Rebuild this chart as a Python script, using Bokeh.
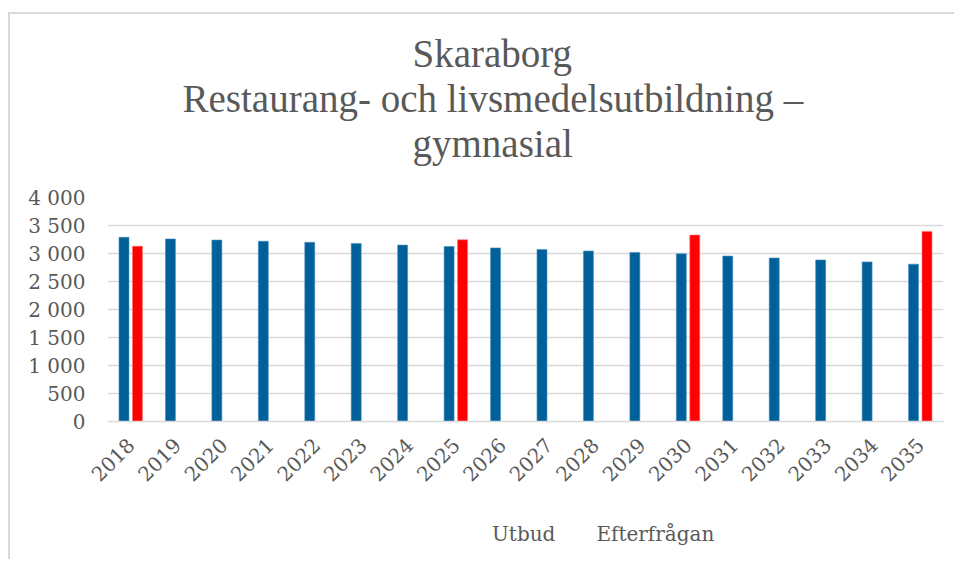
import math
from bokeh.plotting import figure
from bokeh.layouts import column
from bokeh.models import ColumnDataSource, FactorRange, Legend, LegendItem, FixedTicker, CustomJSTickFormatter, Title
from bokeh.transform import dodge
from bokeh.embed import file_html
from bokeh.resources import INLINE

years = [str(y) for y in range(2018, 2036)]
utbud = [3290, 3260, 3240, 3220, 3200, 3180, 3150, 3125, 3100, 3070, 3045, 3020, 2995, 2955, 2920, 2885, 2850, 2810]
eft_years = ["2018", "2025", "2030", "2035"]
efterfragan = [3130, 3245, 3330, 3395]
title_lines = ["Skaraborg", "Restaurang- och livsmedelsutbildning –", "gymnasial"]
series_names = ["Utbud", "Efterfrågan"]
y_ticks = [0, 500, 1000, 1500, 2000, 2500, 3000, 3500, 4000]

FONT = "DejaVu Serif"
TFONT = "Liberation Serif"
GREY = "#595959"
BLUE = "#00609A"
RED = "#FF0000"

src_u = ColumnDataSource(dict(x=years, y=utbud))
src_e = ColumnDataSource(dict(x=eft_years, y=efterfragan))

p = figure(x_range=FactorRange(*years, range_padding=0), y_range=(0, 4000),
           width=944, height=495,
           frame_width=836, frame_height=224, output_backend="svg", toolbar_location=None,
           min_border_left=97, min_border_right=11, min_border_top=183, min_border_bottom=88,
           title=None)
p.x_range.range_padding = 0

p.vbar(x=dodge("x", -0.145, range=p.x_range), top="y", width=0.215, source=src_u,
       fill_color=BLUE, line_color="#4f8fbf", line_width=0.6)
p.vbar(x=dodge("x", 0.145, range=p.x_range), top="y", width=0.215, source=src_e,
       fill_color=RED, line_color="#ff7070", line_width=0.6)

p.outline_line_color = None
p.xgrid.grid_line_color = None
p.ygrid.grid_line_color = "#D9D9D9"
p.ygrid.grid_line_width = 1.5
p.yaxis.ticker = FixedTicker(ticks=y_ticks)
p.yaxis.formatter = CustomJSTickFormatter(code="return tick >= 1000 ? Math.floor(tick/1000) + ' ' + String(tick % 1000).padStart(3, '0') : String(tick);")
for ax in (p.xaxis[0], p.yaxis[0]):
    ax.major_tick_line_color = None
    ax.minor_tick_line_color = None
    ax.major_label_text_font = FONT
    ax.major_label_text_font_size = "20px"
    ax.major_label_text_color = GREY
p.yaxis.axis_line_color = None
p.yaxis.major_label_standoff = 16
p.xaxis.axis_line_color = "#D9D9D9"
p.xaxis.axis_line_width = 1.5
p.xaxis.major_label_orientation = math.pi / 4
p.xaxis.major_label_standoff = 14

# spacer between the title block and the plot area (closest to the frame)
p.add_layout(Title(text=" ", text_font_size="28px", standoff=0), "above")
offsets = [305, 75, 305]
for txt, off in reversed(list(zip(title_lines, offsets))):
    p.add_layout(Title(text=txt, align="left", offset=off, standoff=0,
                       text_font=TFONT, text_font_size="39px", text_color=GREY,
                       text_font_style="normal"), "above")

# legend strip below the chart
lg = figure(width=944, height=50, output_backend="svg", toolbar_location=None,
            x_axis_type=None, y_axis_type=None, x_range=(0, 1), y_range=(0, 1),
            min_border=0, title=None)
lg.outline_line_color = None
lg.xgrid.grid_line_color = None
lg.ygrid.grid_line_color = None
lr_u = lg.vbar(x=[], top=[], width=0.1, fill_color=BLUE, line_color="#4f8fbf", line_width=0.6)
lr_e = lg.vbar(x=[], top=[], width=0.1, fill_color=RED, line_color="#ff7070", line_width=0.6)
legend = Legend(items=[LegendItem(label=series_names[0], renderers=[lr_u]),
                       LegendItem(label=series_names[1], renderers=[lr_e])],
                location=(366, 13), orientation="horizontal",
                glyph_width=13, glyph_height=13, label_standoff=6, spacing=22,
                padding=0, margin=0, border_line_color=None, background_fill_alpha=0,
                label_text_font=FONT, label_text_font_size="20px", label_text_color=GREY)
lg.add_layout(legend, "center")

layout = column(p, lg, spacing=0)
layout.styles = {"border-top": "2px solid #D9D9D9", "border-left": "2px solid #D9D9D9",
                 "margin-top": "12px", "margin-left": "8px"}

open("out.html", "w").write(file_html(layout, INLINE))
